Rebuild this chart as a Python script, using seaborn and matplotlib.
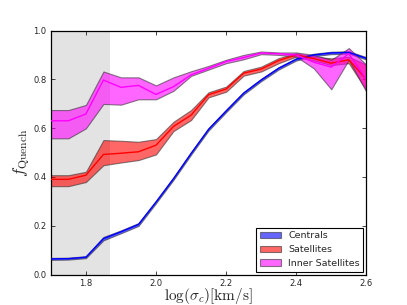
import numpy as np
import pandas as pd
import matplotlib
matplotlib.use("Agg")
import matplotlib.pyplot as plt
import seaborn as sns

# velocity dispersion bins, log(sigma_c) [km/s]
log_sigma = [1.70, 1.75, 1.80, 1.85, 1.90, 1.95, 2.00, 2.05, 2.10, 2.15,
             2.20, 2.25, 2.30, 2.35, 2.40, 2.45, 2.50, 2.55, 2.60]

# Centrals
cen_mid = [0.064, 0.065, 0.071, 0.147, 0.175, 0.205, 0.297, 0.393, 0.496, 0.595,
           0.670, 0.743, 0.797, 0.845, 0.882, 0.900, 0.908, 0.910, 0.886]
cen_hi = [0.068, 0.069, 0.075, 0.154, 0.181, 0.211, 0.302, 0.398, 0.501, 0.600,
          0.675, 0.748, 0.802, 0.850, 0.887, 0.905, 0.913, 0.915, 0.891]
cen_lo = [0.060, 0.061, 0.067, 0.140, 0.169, 0.199, 0.292, 0.388, 0.491, 0.590,
          0.665, 0.738, 0.792, 0.840, 0.877, 0.895, 0.903, 0.905, 0.881]

# Satellites
sat_mid = [0.390, 0.390, 0.407, 0.492, 0.497, 0.503, 0.530, 0.607, 0.653, 0.737,
           0.760, 0.825, 0.842, 0.877, 0.900, 0.885, 0.866, 0.880, 0.800]
sat_hi = [0.407, 0.407, 0.421, 0.551, 0.548, 0.544, 0.555, 0.626, 0.674, 0.747,
          0.770, 0.834, 0.852, 0.887, 0.907, 0.893, 0.886, 0.893, 0.860]
sat_lo = [0.362, 0.362, 0.379, 0.448, 0.459, 0.469, 0.492, 0.588, 0.633, 0.726,
          0.749, 0.815, 0.832, 0.866, 0.893, 0.877, 0.858, 0.866, 0.756]

# Inner satellites
inn_mid = [0.630, 0.630, 0.658, 0.797, 0.767, 0.775, 0.738, 0.770, 0.818, 0.845,
           0.873, 0.889, 0.908, 0.905, 0.900, 0.870, 0.850, 0.905, 0.800]
inn_hi = [0.674, 0.674, 0.695, 0.832, 0.808, 0.808, 0.775, 0.808, 0.833, 0.855,
          0.880, 0.900, 0.914, 0.910, 0.910, 0.900, 0.880, 0.928, 0.860]
inn_lo = [0.558, 0.558, 0.599, 0.699, 0.696, 0.718, 0.718, 0.753, 0.814, 0.840,
          0.866, 0.882, 0.903, 0.900, 0.893, 0.845, 0.759, 0.880, 0.749]

labels = ["Centrals", "Satellites", "Inner Satellites"]
colores = ["blue", "red", "magenta"]

sns.set_style("ticks")
plt.rcParams["mathtext.fontset"] = "cm"
plt.rcParams["font.family"] = ["DejaVu Sans"]

df = pd.DataFrame({
    "x": log_sigma * 3,
    "f": cen_mid + sat_mid + inn_mid,
    "grupo": [labels[0]] * len(log_sigma) + [labels[1]] * len(log_sigma) + [labels[2]] * len(log_sigma),
})

fig, ax = plt.subplots(figsize=(4.07, 3.05), dpi=100)
fig.subplots_adjust(left=0.125, right=0.9, bottom=0.1, top=0.9)

# resolution limit shading
ax.axvspan(1.70, 1.87, color="#e3e3e3", lw=0, zorder=0)

bandas = [(cen_lo, cen_hi), (sat_lo, sat_hi), (inn_lo, inn_hi)]
for (lo, hi), lab, c in zip(bandas, labels, colores):
    ax.fill_between(log_sigma, lo, hi, facecolor=c, alpha=0.6,
                    edgecolor="#333333", linewidth=0.8, label=lab, zorder=2)

sns.lineplot(data=df, x="x", y="f", hue="grupo", palette=colores,
             linewidth=1, legend=False, ax=ax, zorder=3)

ax.set_xlim(1.7, 2.6)
ax.set_ylim(0, 1.0)
ax.set_xticks([1.8, 2.0, 2.2, 2.4, 2.6])
ax.set_yticks([0.0, 0.2, 0.4, 0.6, 0.8, 1.0])
ax.tick_params(direction="in", length=3, width=0.6, labelsize=6,
               top=True, right=True, pad=3)
for s in ax.spines.values():
    s.set_linewidth(0.9)
    s.set_color("black")

ax.set_xlabel(r"$\log(\sigma_c) [\mathrm{km/s}]$", fontsize=11, labelpad=-1)
ax.set_ylabel(r"$f_{\mathrm{Quench}}$", fontsize=12, labelpad=1)

leg = ax.legend(loc="lower right", fontsize=6.8, fancybox=False, framealpha=1,
                edgecolor="black", borderaxespad=0.3, handlelength=2.2)
leg.get_frame().set_linewidth(0.8)

plt.savefig("out.png", dpi=100)
